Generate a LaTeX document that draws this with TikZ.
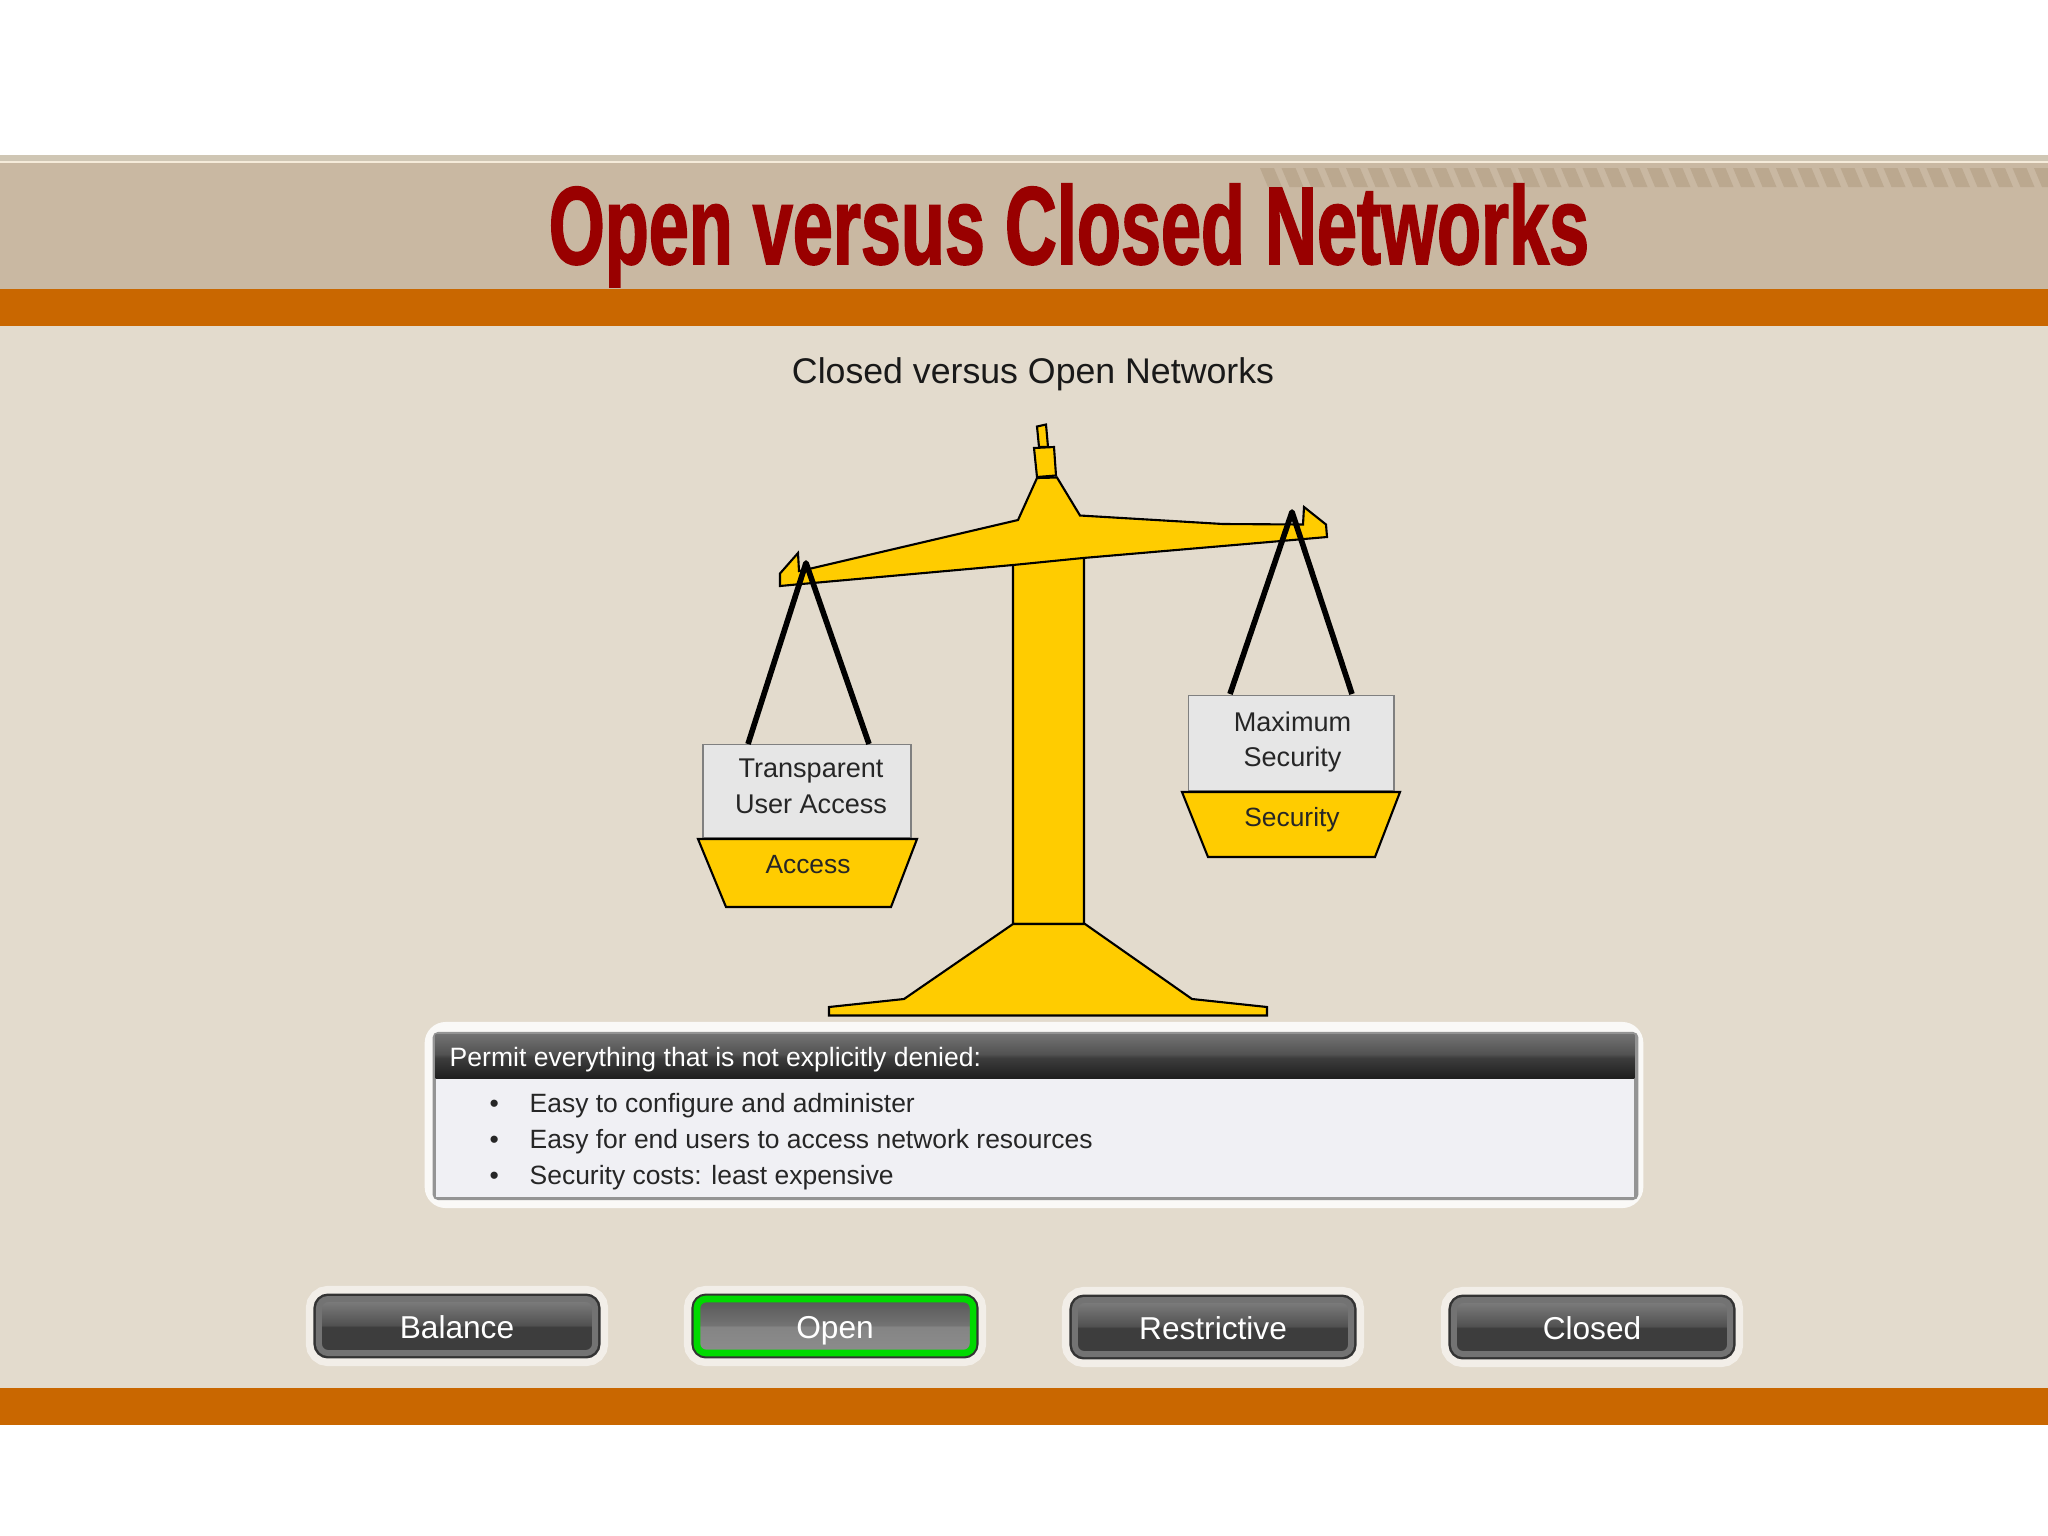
\documentclass[tikz,border=0pt]{standalone}
\usepackage{fontspec}
\usetikzlibrary{positioning}
\setmainfont{Liberation Sans}
\newfontfamily\titlefont[FakeStretch=0.65,FakeBold=1.4]{Liberation Sans Bold}
\definecolor{tanband}{HTML}{C9B8A2}
\definecolor{paleband}{HTML}{CFC6B4}
\definecolor{creamline}{HTML}{F5EBDA}
\definecolor{rustband}{HTML}{C96700}
\definecolor{slidebg}{HTML}{E3DBCD}
\definecolor{stripe}{HTML}{BBA88F}
\definecolor{titlered}{HTML}{990000}
\definecolor{scalegold}{HTML}{FFCC00}
\definecolor{boxgrey}{HTML}{E6E6E6}
\definecolor{panelbody}{HTML}{F0F0F4}
\pgfdeclareverticalshading{btnshade}{100bp}{color(0bp)=(black!76); color(25bp)=(black!76); color(49bp)=(black!76); color(51bp)=(black!68); color(75bp)=(black!50); color(100bp)=(black!50)}
\pgfdeclareverticalshading{btnonshade}{100bp}{color(0bp)=(black!45); color(25bp)=(black!45); color(49bp)=(black!48); color(51bp)=(black!55); color(75bp)=(black!66); color(100bp)=(black!66)}
\pgfdeclareverticalshading{headshade}{100bp}{color(0bp)=(black!88); color(25bp)=(black!88); color(48bp)=(black!76); color(52bp)=(black!68); color(75bp)=(black!55); color(100bp)=(black!55)}
\tikzset{
  scalepart/.style={draw=black, fill=scalegold, line width=0.6pt, line join=miter},
  cord/.style={draw=black, line width=1.6pt},
  loadbox/.style={draw=black!50, fill=boxgrey, line width=0.4pt, align=center, inner sep=0pt,
    font=\fontsize{7.7}{10.2}\selectfont, text=black!85},
  panlabel/.style={font=\fontsize{7.5}{9}\selectfont, text=black!85, inner sep=0pt},
  bodyline/.style={font=\fontsize{7.52}{9}\selectfont, text=black!85, inner sep=0pt, anchor=base west},
  btnbase/.style={rounded corners=2.6pt, minimum width=2.76cm, minimum height=0.54cm, inner sep=0pt,
    text=white, font=\fontsize{9}{11}\selectfont, text height=7.2pt, text depth=0pt,
    preaction={draw=white, opacity=0.55, line width=7.4pt},
    preaction={draw=black!80, line width=3.1pt}},
  btn/.style={btnbase, shading=btnshade, draw=black!55, line width=1.7pt},
  btnon/.style={btnbase, shading=btnonshade, draw=green!85!black, line width=1.9pt},
}
\begin{document}
\begin{tikzpicture}[x=0.01cm, y=-0.01cm]
  \useasboundingbox (0,0) rectangle (2048,1536);
  % bands
  \fill[white] (0,0) rectangle (2048,1536);
  \fill[slidebg] (0,326) rectangle (2048,1388);
  \fill[paleband] (0,155) rectangle (2048,161);
  \fill[creamline] (0,161) rectangle (2048,163);
  \fill[tanband] (0,163) rectangle (2048,289);
  \foreach \sx in {0,...,36}
    \fill[stripe] ({1260+21.5*\sx},168) -- ({1274+21.5*\sx},168) -- ({1282+21.5*\sx},187) -- ({1268+21.5*\sx},187) -- cycle;
  \fill[rustband] (0,289) rectangle (2048,326);
  \fill[rustband] (0,1388) rectangle (2048,1425);
  \node[text=titlered, inner sep=0pt, anchor=base, font=\titlefont\fontsize{31.5}{34}\selectfont] (title) at (1069,264) {Open versus Closed Networks};
  \node[inner sep=0pt, text=black!90, font=\fontsize{10.15}{12}\selectfont] (subtitle) at (1033,374) {Closed versus Open Networks};
  % scale
  \draw[scalepart] (1037,426.5) -- (1046,424.5) -- (1048,447) -- (1039,447) -- cycle;
  \draw[scalepart] (1034,448) -- (1054,447) -- (1056,475.5) -- (1037,477) -- cycle;
  \draw[scalepart] (1013,924) -- (1013,560) -- (1084,555) -- (1084,924) -- cycle;
  \draw[scalepart] (1013,924) -- (904,999) -- (829,1007) -- (829,1015.5) -- (1267,1015.5) -- (1267,1007) -- (1192,999) -- (1085,924) -- cycle;
  \draw[scalepart] (780,586) -- (780,573.5) -- (798,553) -- (799,571) -- (813,568) -- (1018,520) -- (1037,478) -- (1057,477.5)
    -- (1080,515.5) -- (1223,524) -- (1303,524.5) -- (1304,507) -- (1326,524.5) -- (1327,537) -- (1281,541) -- (1083,558)
    -- (1013,565) -- (796,584.5) -- cycle;
  % left pan
  \node[loadbox, minimum width=2.08cm, minimum height=0.925cm] (leftbox) at (807,791) {};
  \node[loadbox, draw=none, fill=none] (lefttext) at (811,786) {Transparent\\User Access};
  \coordinate (lefthook) at (806,563);
  \coordinate (leftcordA) at (748,744);
  \coordinate (leftcordB) at (869,744);
  \draw[cord, line join=round] (leftcordA) -- (lefthook) -- (leftcordB);
  \draw[scalepart] (698,839) -- (917,839) -- (891,907) -- (726,907) -- cycle;
  \node[panlabel] (leftpan) at (808,865) {Access};
  % right pan
  \node[loadbox, minimum width=2.055cm, minimum height=0.955cm] (rightbox) at (1291,743) {};
  \node[loadbox, draw=none, fill=none] (righttext) at (1292.5,742) {Maximum\\Security};
  \coordinate (righthook) at (1292,512);
  \coordinate (rightcordA) at (1230,694);
  \coordinate (rightcordB) at (1352,694);
  \draw[cord, line join=round] (rightcordA) -- (righthook) -- (rightcordB);
  \draw[scalepart] (1182,792) -- (1400,792) -- (1375,857) -- (1208,857) -- cycle;
  \node[panlabel] (rightpan) at (1292,819.5) {Security};
  % panel
  \node[fill=white, opacity=0.85, rounded corners=6pt, minimum width=12.18cm, minimum height=1.86cm, inner sep=0pt] (panel) at (1034,1115) {};
  \node[fill=black!42, rounded corners=1.5pt, minimum width=12.05cm, minimum height=1.68cm, inner sep=0pt] (panelframe) at (1035.5,1116) {};
  \node[fill=panelbody, minimum width=11.98cm, minimum height=1.62cm, inner sep=0pt] (panelbox) at (1035,1116) {};
  \node[shading=headshade, minimum width=11.98cm, minimum height=0.44cm, inner sep=0pt] (panelhead) at (1035,1056) {};
  \node[text=white, inner sep=0pt, anchor=base west, font=\fontsize{7.55}{9}\selectfont] (headtext) at (449,1066) {Permit everything that is not explicitly denied:};
  \foreach \ly/\ltext [count=\li] in {1112/Easy to configure and administer, 1148/Easy for end users to access network resources, 1184/{Security costs: least expensive}} {
    \node[bodyline] (bullet\li) at (489,\ly) {\textbullet};
    \node[bodyline] (line\li) at (529,\ly) {\ltext};
  }
  % buttons
  \node[btn] (balance) at (457,1326) {Balance};
  \node[btnon] (open) at (835,1326) {Open};
  \node[btn] (restrictive) at (1213,1327) {Restrictive};
  \node[btn] (closed) at (1592,1327) {Closed};
\end{tikzpicture}
\end{document}
